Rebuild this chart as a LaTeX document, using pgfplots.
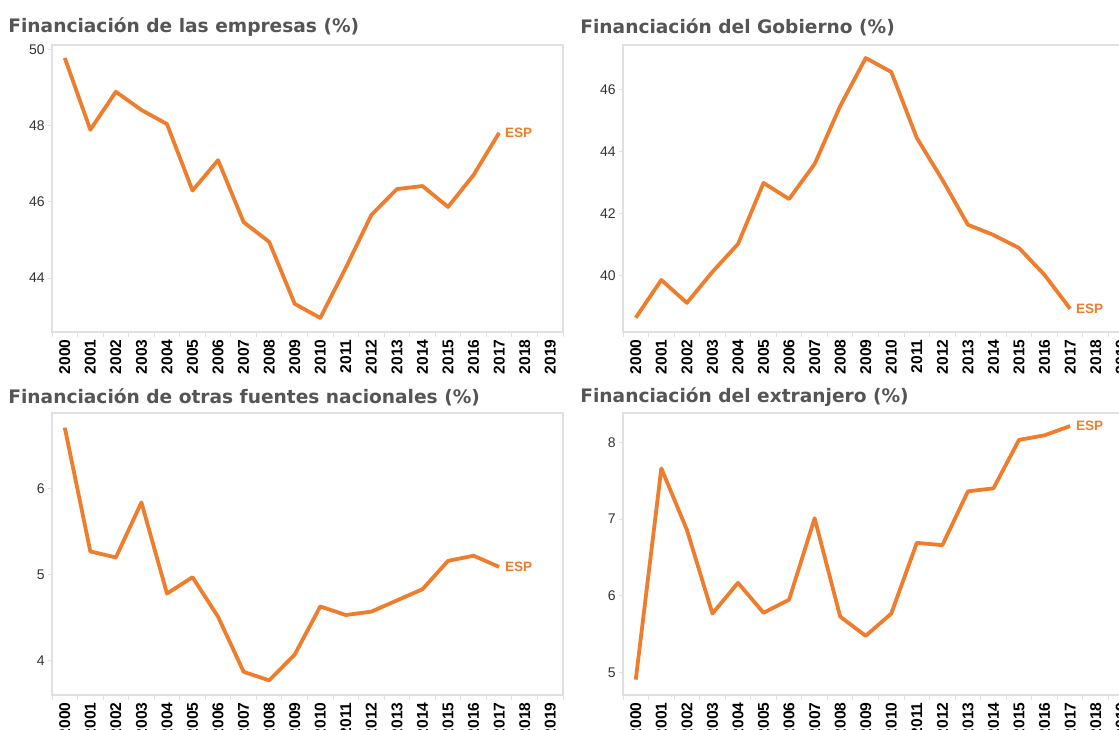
\documentclass[border=0pt]{standalone}
\usepackage{fontspec}
\setmainfont{Liberation Sans}
\newfontfamily\titlefont{DejaVu Sans}
\usepackage{pgfplots}
\pgfplotsset{compat=1.18}
\definecolor{esp}{HTML}{EE7D2E}
\definecolor{ttl}{HTML}{555555}
\definecolor{frm}{HTML}{E0E0E0}

\pgfplotstableread{
yr v
0 49.79
1 47.90
2 48.90
3 48.42
4 48.05
5 46.30
6 47.10
7 45.47
8 44.95
9 43.32
10 42.95
11 44.27
12 45.66
13 46.34
14 46.42
15 45.87
16 46.71
17 47.82
}\empresas

\pgfplotstableread{
yr v
0 38.65
1 39.87
2 39.13
3 40.13
4 41.03
5 43.00
6 42.48
7 43.61
8 45.48
9 47.03
10 46.58
11 44.45
12 43.10
13 41.65
14 41.32
15 40.90
16 40.03
17 38.94
}\gobierno

\pgfplotstableread{
yr v
0 6.71
1 5.27
2 5.20
3 5.84
4 4.78
5 4.97
6 4.51
7 3.87
8 3.77
9 4.07
10 4.63
11 4.53
12 4.57
13 4.70
14 4.83
15 5.16
16 5.22
17 5.09
}\otras

\pgfplotstableread{
yr v
0 4.91
1 7.66
2 6.86
3 5.77
4 6.17
5 5.78
6 5.95
7 7.01
8 5.73
9 5.48
10 5.77
11 6.69
12 6.66
13 7.36
14 7.40
15 8.03
16 8.09
17 8.21
}\extranjero

\pgfplotsset{panel/.style={
  scale only axis, width=255.5pt, anchor=north west,
  xmin=-0.5, xmax=19.5,
  xtick={0,...,19},
  xticklabels={2000,2001,2002,2003,2004,2005,2006,2007,2008,2009,2010,2011,2012,2013,2014,2015,2016,2017,2018,2019},
  minor xtick={-0.5,0.5,...,19.5},
  xtick pos=bottom, ytick pos=left,
  tick align=outside,
  major x tick style={draw=none},
  major tick length=2pt, minor tick length=2.5pt,
  tick style={draw=frm, line width=0.5pt},
  axis line style={draw=frm, line width=0.6pt},
  x tick label style={rotate=90, anchor=east, font=\bfseries\fontsize{7.8}{8}\selectfont, inner sep=1.5pt},
  y tick label style={font=\fontsize{7}{8}\selectfont, text=black!80, inner sep=1.5pt},
  /pgf/number format/assume math mode=true,
  clip=false,
}}

\begin{document}
\begin{tikzpicture}[x=1pt,y=1pt]
\begin{axis}[panel, at={(26pt,342pt)}, height=143.5pt, ymin=42.58, ymax=50.13, ytick={44,46,48,50}]
\addplot[esp, line width=1.9pt, line join=round] table[x=yr,y=v] {\empresas}
  node[pos=1, anchor=west, text=esp, font=\bfseries\fontsize{6.8}{7}\selectfont, inner sep=2pt] {ESP};
\end{axis}
\begin{axis}[panel, at={(311.5pt,342pt)}, height=143.5pt, ymin=38.19, ymax=47.45, ytick={40,42,44,46}]
\addplot[esp, line width=1.9pt, line join=round] table[x=yr,y=v] {\gobierno}
  node[pos=1, anchor=west, text=esp, font=\bfseries\fontsize{6.8}{7}\selectfont, inner sep=2pt] {ESP};
\end{axis}
\begin{axis}[panel, at={(26pt,158pt)}, height=141pt, ymin=3.6, ymax=6.88, ytick={4,5,6}]
\addplot[esp, line width=1.9pt, line join=round] table[x=yr,y=v] {\otras}
  node[pos=1, anchor=west, text=esp, font=\bfseries\fontsize{6.8}{7}\selectfont, inner sep=2pt] {ESP};
\end{axis}
\begin{axis}[panel, at={(311.5pt,158pt)}, height=141pt, ymin=4.71, ymax=8.38, ytick={5,6,7,8}]
\addplot[esp, line width=1.9pt, line join=round] table[x=yr,y=v] {\extranjero}
  node[pos=1, anchor=west, text=esp, font=\bfseries\fontsize{6.8}{7}\selectfont, inner sep=2pt] {ESP};
\end{axis}
\node[anchor=west, text=ttl, font=\titlefont\bfseries\fontsize{9.3}{11}\selectfont, inner sep=0pt] at (4pt,351pt) {Financiación de las empresas (\%)};
\node[anchor=west, text=ttl, font=\titlefont\bfseries\fontsize{9.3}{11}\selectfont, inner sep=0pt] at (290pt,351pt) {Financiación del Gobierno (\%)};
\node[anchor=west, text=ttl, font=\titlefont\bfseries\fontsize{9.3}{11}\selectfont, inner sep=0pt] at (4pt,166pt) {Financiación de otras fuentes nacionales (\%)};
\node[anchor=west, text=ttl, font=\titlefont\bfseries\fontsize{9.3}{11}\selectfont, inner sep=0pt] at (290pt,166pt) {Financiación del extranjero (\%)};
\pgfresetboundingbox
\useasboundingbox (0,0) rectangle (559.5pt,364.5pt);
\end{tikzpicture}
\end{document}
